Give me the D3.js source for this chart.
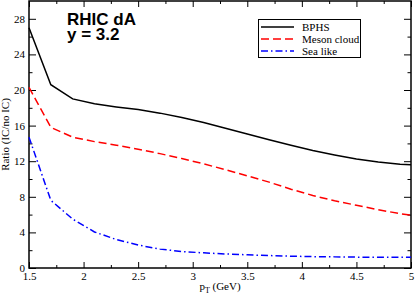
<!DOCTYPE html>
<html lang="en">
<head>
<meta charset="UTF-8">
<title>RHIC dA ratio</title>
<script src="https://d3js.org/d3.v7.min.js"></script>
<style>
  body { margin: 0; background: #fff; }
  .serif { font-family: "Liberation Serif", "DejaVu Serif", "Times New Roman", serif; font-size: 11px; fill: #000; }
  .curve { fill: none; stroke-width: 1.5px; }
</style>
</head>
<body>
<div id="chart"></div>
<script>

// pT values (GeV)
var pt = [1.5, 1.7, 1.9, 2.1, 2.3, 2.5, 2.7, 2.9, 3.1, 3.3, 3.5, 3.7, 3.9, 4.1, 4.3, 4.5, 4.7, 4.9, 5.0];

// ratio IC / no IC, one array per model
var bphs   = [27.0, 20.6, 19.0, 18.45, 18.1, 17.8, 17.4, 16.9, 16.35, 15.7, 15.05, 14.4, 13.8, 13.2, 12.7, 12.25, 11.9, 11.65, 11.6];
var meson  = [20.3, 15.8, 14.7, 14.2, 13.8, 13.35, 12.85, 12.3, 11.7, 11.05, 10.35, 9.65, 8.85, 8.15, 7.55, 7.05, 6.55, 6.1, 5.95];
var sea    = [14.7, 7.6, 5.5, 4.05, 3.2, 2.58, 2.12, 1.85, 1.7, 1.58, 1.48, 1.4, 1.33, 1.28, 1.25, 1.22, 1.2, 1.2, 1.2];

var seriesNames = ["BPHS", "Meson cloud", "Sea like"];
var xTicks = [1.5, 2, 2.5, 3, 3.5, 4, 4.5, 5];
var yTicks = [0, 4, 8, 12, 16, 20, 24, 28];

var width = 415, height = 296;
var margin = {top: 1, right: 4, bottom: 28, left: 29};
var w = width - margin.left - margin.right,
    h = height - margin.top - margin.bottom;

var svg = d3.select("#chart").append("svg")
    .attr("width", width)
    .attr("height", height);

var g = svg.append("g").attr("transform", "translate(" + margin.left + "," + margin.top + ")");

var x = d3.scaleLinear().domain([1.5, 5]).range([0, w]);
var y = d3.scaleLinear().domain([0, 30]).range([h, 0]);

var xMinor = d3.range(1.75, 5, 0.5);
var yMinor = d3.range(2, 30, 4);

function axisStyle(sel) {
  sel.select(".domain").remove();
  sel.attr("font-family", null).attr("font-size", null);
  sel.selectAll("line").attr("stroke", "#000");
  sel.selectAll("text").attr("class", "serif").attr("fill", "#000");
}

// major + minor ticks on all four sides, pointing inward
g.append("g").attr("transform", "translate(0," + h + ")")
    .call(d3.axisBottom(x).tickValues(xTicks).tickFormat(d3.format("")).tickSize(-6).tickPadding(4))
    .call(axisStyle);
g.append("g").attr("transform", "translate(0," + h + ")")
    .call(d3.axisBottom(x).tickValues(xMinor).tickFormat("").tickSize(-3))
    .call(axisStyle);
g.append("g")
    .call(d3.axisTop(x).tickValues(xTicks).tickFormat("").tickSize(-6))
    .call(axisStyle);
g.append("g")
    .call(d3.axisTop(x).tickValues(xMinor).tickFormat("").tickSize(-3))
    .call(axisStyle);

g.append("g")
    .call(d3.axisLeft(y).tickValues(yTicks).tickSize(-7).tickPadding(4))
    .call(axisStyle);
g.append("g")
    .call(d3.axisLeft(y).tickValues(yMinor).tickFormat("").tickSize(-3.5))
    .call(axisStyle);
g.append("g").attr("transform", "translate(" + w + ",0)")
    .call(d3.axisRight(y).tickValues(yTicks).tickFormat("").tickSize(-7))
    .call(axisStyle);
g.append("g").attr("transform", "translate(" + w + ",0)")
    .call(d3.axisRight(y).tickValues(yMinor).tickFormat("").tickSize(-3.5))
    .call(axisStyle);

// frame
g.append("rect")
    .attr("width", w).attr("height", h)
    .attr("fill", "none").attr("stroke", "#000").attr("stroke-width", 1.5);

var styles = [
  {color: "#000000", dash: null},
  {color: "#ff0000", dash: "8,4"},
  {color: "#0000ff", dash: "7,3,1.5,3"}
];
var allSeries = [bphs, meson, sea];

var line = d3.line()
    .x(function(d, i) { return x(pt[i]); })
    .y(function(d) { return y(d); });

g.selectAll(".curve")
    .data(allSeries)
  .enter().append("path")
    .attr("class", "curve")
    .attr("d", line)
    .attr("stroke", function(d, i) { return styles[i].color; })
    .attr("stroke-dasharray", function(d, i) { return styles[i].dash; });

// title
["RHIC dA", "y = 3.2"].forEach(function(t, i) {
  svg.append("text")
      .attr("x", 67).attr("y", 25 + i * 15)
      .style("font-family", "'Liberation Sans', Arial, sans-serif")
      .style("font-weight", "bold")
      .style("font-size", "17px")
      .text(t);
});

// legend
var lg = svg.append("g");
lg.append("rect")
    .attr("x", 258.5).attr("y", 19.5).attr("width", 102).attr("height", 38)
    .attr("fill", "#fff").attr("stroke", "#000").attr("stroke-width", 1);
seriesNames.forEach(function(name, i) {
  var yy = 27 + i * 12;
  lg.append("line")
      .attr("x1", 261).attr("x2", 294).attr("y1", yy).attr("y2", yy)
      .attr("stroke", styles[i].color).attr("stroke-width", 1.5)
      .attr("stroke-dasharray", styles[i].dash);
  lg.append("text")
      .attr("class", "serif")
      .attr("x", 302).attr("y", yy + 4)
      .text(name);
});

// axis titles
svg.append("text")
    .attr("class", "serif")
    .attr("transform", "translate(9," + (margin.top + h / 2) + ") rotate(-90)")
    .attr("text-anchor", "middle")
    .text("Ratio (IC/no IC)");

var xl = svg.append("text")
    .attr("class", "serif")
    .attr("x", margin.left + w / 2).attr("y", 290)
    .attr("text-anchor", "middle");
xl.append("tspan").text("p");
xl.append("tspan").attr("dy", 3).style("font-size", "8px").text("T");
xl.append("tspan").attr("dy", -3).text(" (GeV)");

</script>
</body>
</html>
